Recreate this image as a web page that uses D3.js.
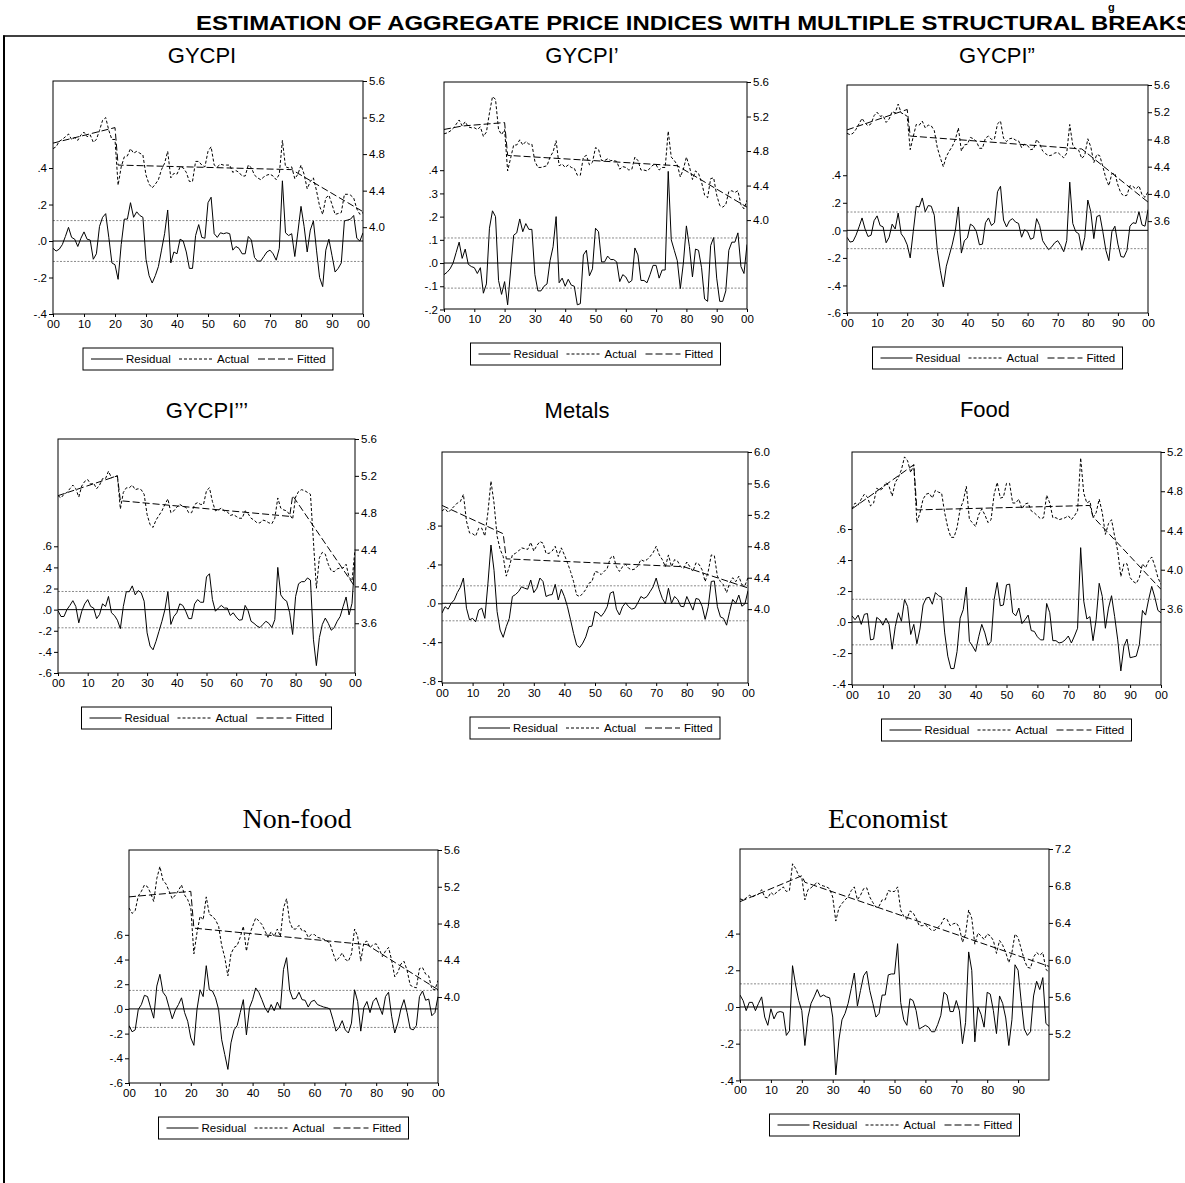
<!DOCTYPE html>
<html><head><meta charset="utf-8">
<script src="https://cdn.jsdelivr.net/npm/d3@7"></script>
<style>body{margin:0;background:#fff}svg{display:block}</style>
</head><body>
<svg id="c" width="1185" height="1183"></svg>
<script>
// ---------------- DATA ----------------
const years = d3.range(1900, 2001);
const mainTitle = "ESTIMATION OF AGGREGATE PRICE INDICES WITH MULTIPLE STRUCTURAL BREAKS";
const panelTitles = ["GYCPI", "GYCPI\u2019", "GYCPI\u201D", "GYCPI\u2019\u2019\u2019", "Metals", "Food", "Non-food", "Economist"];
const legendLabels = ["Residual", "Actual", "Fitted"];

const gycpiResidual = [-0.04,-0.055,-0.045,-0.02,0.025,0.075,0.02,0.01,-0.03,0.015,
 0.05,0.01,0.005,-0.10,-0.07,0.08,0.13,0.15,0.02,-0.12,
 -0.13,-0.21,-0.02,0.12,0.12,0.21,0.13,0.16,0.14,0.13,
 -0.10,-0.19,-0.23,-0.19,-0.14,-0.05,0.04,0.17,-0.12,-0.06,
 -0.07,0.01,0.0,-0.06,-0.15,-0.15,0.03,0.09,0.02,0.015,
 0.21,0.24,0.04,0.02,0.045,0.04,0.045,0.04,-0.05,-0.03,
 -0.04,-0.07,-0.07,0.025,0.005,-0.09,-0.11,-0.11,-0.085,-0.06,
 -0.05,-0.07,-0.105,-0.04,0.33,0.045,0.03,0.04,-0.085,0.05,
 0.19,0.08,-0.06,0.06,0.11,-0.05,-0.20,-0.25,-0.05,0.01,
 -0.08,-0.17,-0.15,-0.12,0.11,0.115,0.12,0.14,0.015,0.0,
 0.045];
const gycpiActual = [4.86,4.88,4.94,4.96,4.99,5.02,4.96,4.98,4.95,5.01,
 5.04,4.99,5.01,4.93,4.96,5.06,5.17,5.20,5.06,4.96,
 4.96,4.46,4.66,4.77,4.78,4.86,4.81,4.83,4.81,4.79,
 4.57,4.47,4.43,4.47,4.52,4.63,4.70,4.83,4.54,4.59,
 4.58,4.66,4.65,4.60,4.50,4.50,4.72,4.72,4.68,4.66,
 4.83,4.88,4.68,4.66,4.69,4.68,4.68,4.68,4.60,4.62,
 4.60,4.56,4.56,4.68,4.65,4.57,4.54,4.52,4.55,4.57,
 4.58,4.56,4.52,4.58,4.95,4.66,4.65,4.66,4.53,4.58,
 4.68,4.58,4.42,4.50,4.54,4.40,4.23,4.14,4.32,4.35,
 4.25,4.14,4.15,4.16,4.36,4.36,4.35,4.32,4.20,4.14,
 4.16];
const gycpiFittedYears = [1900, 1920, 1921, 1977, 2000];
const gycpiFittedValues = [4.92, 5.09, 4.68, 4.63, 4.17];

const gycpi1Residual = [-0.05,-0.04,-0.025,0.0,0.045,0.09,0.02,0.06,-0.005,-0.015,
 -0.02,-0.045,-0.02,-0.13,-0.09,0.15,0.225,0.20,-0.075,-0.135,
 -0.08,-0.18,-0.03,0.12,0.13,0.19,0.135,0.17,0.145,0.145,
 -0.05,-0.12,-0.12,-0.10,-0.09,0.01,0.07,0.20,-0.085,-0.065,
 -0.10,-0.07,-0.095,-0.10,-0.18,-0.175,0.035,0.055,-0.055,-0.025,
 0.15,0.135,0.005,0.005,0.03,0.015,0.015,0.005,-0.08,-0.05,
 -0.06,-0.085,-0.075,0.065,0.035,-0.075,-0.075,-0.085,-0.05,-0.01,
 -0.01,-0.065,-0.03,-0.03,0.395,0.10,0.055,0.01,-0.11,0.0,
 0.16,0.07,-0.06,0.06,0.055,-0.02,-0.155,-0.165,0.075,0.11,
 -0.065,-0.165,-0.165,-0.12,0.055,0.09,0.09,0.13,-0.015,-0.045,
 0.08];
const gycpi1Actual = [5.00,5.01,5.03,5.06,5.11,5.16,5.09,5.14,5.08,5.07,
 5.07,5.05,5.08,4.97,5.02,5.24,5.43,5.40,5.05,4.99,
 5.05,4.57,4.72,4.87,4.87,4.93,4.87,4.91,4.88,4.88,
 4.68,4.61,4.61,4.62,4.63,4.73,4.79,4.92,4.63,4.65,
 4.61,4.64,4.61,4.60,4.52,4.52,4.73,4.75,4.64,4.67,
 4.84,4.82,4.69,4.69,4.71,4.69,4.69,4.68,4.59,4.62,
 4.61,4.58,4.59,4.73,4.69,4.58,4.58,4.57,4.60,4.64,
 4.64,4.58,4.61,4.61,5.03,4.73,4.69,4.64,4.50,4.59,
 4.73,4.62,4.47,4.57,4.54,4.44,4.29,4.26,4.48,4.49,
 4.29,4.17,4.15,4.18,4.33,4.34,4.32,4.34,4.18,4.13,
 4.23];
const gycpi1FittedYears = [1900, 1906, 1920, 1921, 1977, 2000];
const gycpi1FittedValues = [5.05, 5.09, 5.13, 4.75, 4.63, 4.15];

const gycpi2Residual = [-0.05,-0.085,-0.08,-0.035,0.025,0.09,0.01,-0.045,-0.035,0.07,
 0.105,0.035,0.025,-0.09,-0.05,0.045,0.01,0.125,-0.025,-0.055,
 -0.105,-0.20,-0.01,0.175,0.17,0.235,0.135,0.18,0.175,0.11,
 -0.145,-0.29,-0.41,-0.26,-0.18,-0.10,0.0,0.17,-0.165,-0.075,
 -0.055,0.045,0.03,-0.01,-0.105,-0.10,0.055,0.09,0.035,0.055,
 0.28,0.32,0.075,0.025,0.07,0.085,0.06,0.05,-0.05,0.005,
 -0.01,-0.065,-0.055,0.085,0.035,-0.075,-0.11,-0.14,-0.12,-0.09,
 -0.075,-0.11,-0.155,-0.075,0.35,0.05,-0.01,-0.025,-0.145,-0.05,
 0.22,0.135,-0.06,0.10,0.11,-0.01,-0.145,-0.22,-0.01,0.03,
 -0.10,-0.19,-0.195,-0.145,0.03,0.055,0.05,0.135,0.04,0.03,
 0.15];
const gycpi2Actual = [4.89,4.87,4.89,4.95,5.03,5.11,5.04,5.00,5.03,5.15,
 5.20,5.14,5.15,5.05,5.10,5.21,5.19,5.32,5.19,5.17,
 5.14,4.65,4.84,5.02,5.01,5.07,4.97,5.01,5.00,4.93,
 4.68,4.53,4.40,4.55,4.63,4.70,4.80,4.97,4.63,4.72,
 4.73,4.83,4.81,4.77,4.67,4.67,4.82,4.85,4.80,4.81,
 5.03,5.07,4.82,4.77,4.81,4.82,4.79,4.78,4.68,4.73,
 4.71,4.65,4.66,4.80,4.74,4.63,4.59,4.56,4.57,4.60,
 4.61,4.57,4.53,4.60,5.02,4.72,4.66,4.64,4.52,4.57,
 4.81,4.69,4.46,4.58,4.56,4.40,4.23,4.12,4.30,4.30,
 4.13,4.01,3.97,3.98,4.12,4.11,4.07,4.12,3.99,3.95,
 4.03];
const gycpi2FittedYears = [1900, 1920, 1921, 1978, 2000];
const gycpi2FittedValues = [4.94, 5.24, 4.85, 4.66, 3.88];

const gycpi3Residual = [-0.01,-0.065,-0.065,0.0,0.04,0.085,0.03,-0.125,-0.015,0.055,
 0.095,0.03,0.015,-0.085,-0.045,0.055,0.03,0.125,-0.03,-0.055,
 -0.10,-0.18,0.03,0.17,0.17,0.225,0.14,0.18,0.16,0.08,
 -0.22,-0.345,-0.38,-0.30,-0.205,-0.11,0.0,0.17,-0.14,-0.065,
 -0.03,0.055,0.04,-0.015,-0.085,-0.085,0.055,0.095,0.07,0.07,
 0.31,0.34,0.095,-0.015,0.015,0.04,0.015,0.015,-0.055,-0.03,
 -0.07,-0.10,-0.095,0.04,-0.01,-0.11,-0.13,-0.155,-0.17,-0.14,
 -0.11,-0.13,-0.17,-0.095,0.40,0.14,0.10,0.08,-0.03,-0.235,
 0.125,0.245,0.265,0.265,0.30,0.28,-0.28,-0.53,-0.265,-0.14,
 -0.08,-0.13,-0.195,-0.17,-0.11,-0.065,0.03,0.12,-0.05,0.06,
 0.49];
const gycpi3Actual = [4.985,4.96,5.00,5.02,5.06,5.10,5.06,4.97,5.09,5.14,
 5.16,5.11,5.12,5.06,5.10,5.17,5.17,5.25,5.18,5.19,
 5.20,4.84,5.02,5.07,5.07,5.10,5.05,5.06,5.05,5.00,
 4.78,4.67,4.64,4.72,4.77,4.82,4.89,4.95,4.80,4.82,
 4.86,4.89,4.87,4.86,4.80,4.80,4.89,4.91,4.89,4.89,
 5.04,5.07,4.92,4.82,4.83,4.85,4.82,4.81,4.77,4.78,
 4.76,4.74,4.74,4.82,4.79,4.74,4.72,4.69,4.69,4.72,
 4.71,4.69,4.68,4.74,4.96,4.85,4.83,4.82,4.78,4.73,
 4.97,5.03,5.05,5.04,5.02,5.00,4.49,3.98,4.31,4.37,
 4.35,4.24,4.17,4.16,4.19,4.20,4.20,4.24,4.10,4.06,
 4.40];
const gycpi3FittedYears = [1900, 1920, 1921, 1978, 1979, 2000];
const gycpi3FittedValues = [4.985, 5.20, 4.93, 4.76, 4.985, 3.995];

const metalsResidual = [-0.10,-0.035,-0.06,0.0,0.035,0.11,0.165,0.26,-0.05,-0.17,
 -0.155,-0.19,-0.07,-0.05,-0.155,0.20,0.60,0.34,-0.085,-0.275,
 -0.35,-0.24,-0.155,0.07,0.09,0.12,0.17,0.155,0.145,0.24,
 0.11,0.155,0.26,0.225,0.07,0.085,0.09,0.195,0.035,0.145,
 0.07,-0.035,-0.17,-0.31,-0.43,-0.455,-0.41,-0.345,-0.24,-0.235,
 -0.085,-0.10,-0.135,-0.095,-0.035,0.105,0.12,-0.06,-0.12,-0.035,
 0.005,-0.035,-0.06,-0.05,0.005,0.07,0.05,0.07,0.12,0.17,
 0.26,0.14,0.05,-0.005,0.155,0.0,0.07,0.04,-0.03,-0.035,
 0.07,0.0,-0.07,0.05,0.04,-0.03,-0.165,-0.035,0.225,0.23,
 -0.035,-0.14,-0.155,-0.225,-0.085,0.04,0.0,0.085,-0.03,-0.005,
 0.13];
const metalsActual = [5.25,5.28,5.23,5.27,5.31,5.35,5.37,5.46,5.12,4.97,
 4.96,4.93,5.03,5.03,4.93,5.23,5.63,5.35,4.93,4.76,
 4.67,4.42,4.54,4.69,4.71,4.74,4.78,4.77,4.76,4.85,
 4.74,4.81,4.86,4.84,4.71,4.71,4.74,4.80,4.67,4.78,
 4.69,4.59,4.48,4.35,4.18,4.16,4.20,4.25,4.33,4.35,
 4.48,4.47,4.44,4.48,4.52,4.65,4.68,4.54,4.48,4.54,
 4.57,4.52,4.50,4.51,4.55,4.63,4.61,4.63,4.67,4.72,
 4.80,4.69,4.63,4.54,4.69,4.54,4.63,4.61,4.54,4.52,
 4.60,4.54,4.48,4.59,4.57,4.50,4.35,4.48,4.69,4.68,
 4.42,4.35,4.31,4.21,4.33,4.40,4.35,4.42,4.31,4.30,
 4.40];
const metalsFittedYears = [1900, 1920, 1921, 1979, 2000];
const metalsFittedValues = [5.32, 4.96, 4.64, 4.54, 4.27];

const foodResidual = [0.04,0.015,0.045,-0.015,0.05,0.055,-0.115,-0.11,0.03,0.015,
 -0.02,0.025,-0.015,-0.175,-0.03,0.06,0.005,0.145,0.10,-0.08,
 -0.015,-0.14,-0.045,0.11,0.155,0.16,0.115,0.19,0.17,0.16,
 -0.07,-0.22,-0.30,-0.30,-0.19,0.025,0.08,0.225,-0.125,-0.155,
 -0.19,-0.095,-0.015,-0.07,-0.15,-0.125,0.145,0.255,0.105,0.11,
 0.24,0.245,0.06,0.04,0.09,-0.01,0.015,0.045,-0.055,-0.06,
 -0.095,-0.115,-0.115,0.12,0.06,-0.12,-0.12,-0.135,-0.13,-0.115,
 -0.09,-0.135,-0.09,-0.04,0.48,0.135,0.02,0.035,-0.12,0.015,
 0.25,0.165,-0.04,0.09,0.17,0.035,-0.115,-0.315,-0.155,-0.11,
 -0.23,-0.225,-0.22,-0.145,0.075,0.045,0.145,0.23,0.16,0.075,
 0.06];
const foodActual = [4.62,4.68,4.66,4.72,4.77,4.74,4.65,4.68,4.83,4.81,
 4.83,4.89,4.85,4.75,4.89,4.94,5.02,5.15,5.11,4.99,
 5.07,4.48,4.58,4.72,4.77,4.78,4.73,4.81,4.79,4.78,
 4.58,4.43,4.33,4.33,4.43,4.62,4.70,4.85,4.51,4.48,
 4.44,4.56,4.62,4.56,4.48,4.51,4.77,4.89,4.73,4.74,
 4.88,4.88,4.68,4.68,4.72,4.62,4.67,4.68,4.60,4.58,
 4.55,4.52,4.53,4.76,4.68,4.53,4.53,4.51,4.52,4.53,
 4.55,4.51,4.55,4.60,5.14,4.78,4.68,4.70,4.53,4.58,
 4.72,4.58,4.36,4.47,4.51,4.34,4.19,3.93,4.06,4.06,
 3.92,3.88,3.86,3.92,4.06,4.02,4.09,4.13,4.04,3.92,
 3.85];
const foodFittedYears = [1900, 1920, 1921, 1977, 1978, 2000];
const foodFittedValues = [4.62, 5.07, 4.61, 4.655, 4.54, 3.80];

const nonfoodResidual = [-0.135,-0.185,-0.17,-0.005,0.035,0.11,0.10,0.01,-0.075,0.185,
 0.28,0.135,0.10,0.01,-0.08,-0.01,0.035,0.09,-0.03,-0.10,
 -0.235,-0.295,-0.005,0.155,0.10,0.35,0.155,0.145,0.09,-0.005,
 -0.25,-0.37,-0.49,-0.275,-0.17,-0.135,-0.03,0.075,-0.21,0.01,
 0.075,0.17,0.135,0.075,0.01,-0.03,0.035,-0.015,0.055,0.0,
 0.32,0.415,0.15,0.08,0.085,0.135,0.075,0.07,0.015,0.06,
 0.07,0.035,0.025,0.015,0.01,0.0,-0.085,-0.18,-0.15,-0.095,
 -0.17,-0.195,-0.115,0.155,0.06,-0.18,0.01,0.06,-0.03,0.06,
 0.09,0.02,-0.045,0.10,0.135,-0.06,-0.195,-0.115,0.0,0.075,
 -0.03,-0.16,-0.17,-0.135,0.10,0.145,0.07,0.08,-0.055,-0.03,
 0.10];
const nonfoodActual = [4.97,4.91,4.94,5.10,5.15,5.22,5.20,5.13,5.04,5.29,
 5.42,5.27,5.23,5.15,5.07,5.11,5.16,5.22,5.11,5.06,
 4.97,4.47,4.70,4.88,4.84,5.09,4.90,4.88,4.84,4.77,
 4.56,4.43,4.23,4.47,4.54,4.56,4.65,4.77,4.50,4.68,
 4.77,4.86,4.83,4.79,4.72,4.65,4.71,4.66,4.74,4.66,
 4.97,5.07,4.82,4.74,4.74,4.78,4.72,4.72,4.65,4.68,
 4.68,4.65,4.64,4.63,4.61,4.59,4.48,4.39,4.43,4.48,
 4.41,4.39,4.47,4.74,4.66,4.39,4.59,4.61,4.54,4.57,
 4.58,4.52,4.44,4.50,4.54,4.40,4.22,4.27,4.36,4.39,
 4.29,4.13,4.11,4.10,4.31,4.32,4.25,4.23,4.09,4.08,
 4.18];
const nonfoodFittedYears = [1900, 1920, 1921, 1977, 2000];
const nonfoodFittedValues = [5.09, 5.15, 4.75, 4.57, 4.08];

const economistResidual = [0.065,0.035,-0.02,0.025,0.025,-0.02,0.02,0.055,-0.055,-0.10,
 -0.01,-0.065,-0.03,-0.025,-0.03,-0.155,-0.13,0.225,0.12,0.035,
 -0.02,-0.21,-0.055,0.02,0.055,0.095,0.055,0.065,0.055,0.05,
 -0.055,-0.37,-0.18,-0.07,-0.035,0.02,0.10,0.185,0.005,0.09,
 0.17,0.195,0.09,0.02,-0.055,-0.035,0.065,0.065,0.175,0.18,
 0.18,0.345,0.025,-0.07,-0.10,0.045,0.035,-0.02,-0.12,-0.11,
 -0.10,-0.11,-0.135,-0.135,-0.095,-0.045,0.08,0.065,-0.025,-0.025,
 0.035,-0.02,-0.20,-0.085,0.30,0.20,-0.19,0.0,-0.04,-0.11,
 0.08,0.07,-0.02,-0.145,0.06,0.02,-0.06,-0.21,-0.07,0.23,
 0.20,0.03,-0.12,-0.155,-0.135,0.06,0.14,0.095,0.16,-0.09,
 -0.105];
const economistActual = [6.66,6.65,6.67,6.70,6.68,6.70,6.71,6.76,6.68,6.67,
 6.73,6.70,6.74,6.76,6.79,6.74,6.75,7.04,6.99,6.91,
 6.89,6.65,6.76,6.78,6.81,6.84,6.81,6.80,6.79,6.77,
 6.68,6.42,6.56,6.61,6.65,6.68,6.75,6.79,6.65,6.70,
 6.77,6.78,6.68,6.62,6.57,6.58,6.65,6.65,6.75,6.74,
 6.74,6.79,6.54,6.47,6.44,6.53,6.51,6.45,6.37,6.37,
 6.38,6.35,6.32,6.32,6.35,6.38,6.45,6.44,6.37,6.39,
 6.40,6.35,6.19,6.28,6.54,6.45,6.17,6.29,6.26,6.22,
 6.28,6.26,6.21,6.07,6.21,6.16,6.08,5.97,6.08,6.28,
 6.24,6.12,6.00,5.92,5.91,6.03,6.08,6.05,6.08,5.90,
 5.86];
const economistFittedYears = [1900, 1920, 1921, 2000];
const economistFittedValues = [6.63, 6.91, 6.84, 5.93];

// one-standard-error band of each residual
const seValues = [0.112, 0.108, 0.133, 0.172, 0.18, 0.147, 0.15, 0.126];

// tick labels
const residualTicks = [
  [-0.4,-0.2,0,0.2,0.4],
  [-0.2,-0.1,0,0.1,0.2,0.3,0.4],
  [-0.6,-0.4,-0.2,0,0.2,0.4],
  [-0.6,-0.4,-0.2,0,0.2,0.4,0.6],
  [-0.8,-0.4,0,0.4,0.8],
  [-0.4,-0.2,0,0.2,0.4,0.6],
  [-0.6,-0.4,-0.2,0,0.2,0.4,0.6],
  [-0.4,-0.2,0,0.2,0.4]
];
const actualTicks = [
  [4.0,4.4,4.8,5.2,5.6],
  [4.0,4.4,4.8,5.2,5.6],
  [3.6,4.0,4.4,4.8,5.2,5.6],
  [3.6,4.0,4.4,4.8,5.2,5.6],
  [4.0,4.4,4.8,5.2,5.6,6.0],
  [3.6,4.0,4.4,4.8,5.2],
  [4.0,4.4,4.8,5.2,5.6],
  [5.2,5.6,6.0,6.4,6.8,7.2]
];
const yearTicksFull = [1900,1910,1920,1930,1940,1950,1960,1970,1980,1990,2000];
const yearTicksShort = [1900,1910,1920,1930,1940,1950,1960,1970,1980,1990];

// ---------------- LAYOUT ----------------
const SANS = "'Liberation Sans', Arial, Helvetica, sans-serif";
const SERIF = "'Liberation Serif', 'Times New Roman', Times, serif";
const layouts = [
  {L:53,  T:81,  R:363,  B:314,  res:[-0.40,0.877], act:[3.05,5.6], tx:202,  ty:63,  font:SANS,  fs:22},
  {L:444, T:82,  R:747,  B:309,  res:[-0.198,0.78], act:[2.97,5.6], tx:582,  ty:63,  font:SANS,  fs:22},
  {L:847, T:85,  R:1148, B:313,  res:[-0.60,1.055], act:[2.25,5.6], tx:997,  ty:63,  font:SANS,  fs:22},
  {L:58,  T:439, R:355,  B:673,  res:[-0.60,1.616], act:[3.06,5.6], tx:207,  ty:418, font:SANS,  fs:22},
  {L:442, T:452, R:748,  B:683,  res:[-0.82,1.557], act:[3.06,6.0], tx:577,  ty:418, font:SANS,  fs:22},
  {L:852, T:452, R:1161, B:685,  res:[-0.406,1.097],act:[2.825,5.2],tx:985,  ty:417, font:SANS,  fs:22},
  {L:129, T:850, R:438,  B:1083, res:[-0.60,1.287], act:[3.065,5.6],tx:297,  ty:828, font:SERIF, fs:28},
  {L:740, T:849, R:1049, B:1080, res:[-0.398,0.861],act:[4.70,7.2], tx:888,  ty:828, font:SERIF, fs:28}
];

const residuals = [gycpiResidual, gycpi1Residual, gycpi2Residual, gycpi3Residual, metalsResidual, foodResidual, nonfoodResidual, economistResidual];
const actuals = [gycpiActual, gycpi1Actual, gycpi2Actual, gycpi3Actual, metalsActual, foodActual, nonfoodActual, economistActual];
const fittedYears = [gycpiFittedYears, gycpi1FittedYears, gycpi2FittedYears, gycpi3FittedYears, metalsFittedYears, foodFittedYears, nonfoodFittedYears, economistFittedYears];
const fittedValues = [gycpiFittedValues, gycpi1FittedValues, gycpi2FittedValues, gycpi3FittedValues, metalsFittedValues, foodFittedValues, nonfoodFittedValues, economistFittedValues];

// ---------------- DRAW ----------------
const svg = d3.select("#c");
svg.append("rect").attr("width",1185).attr("height",1183).attr("fill","#fff");

// header
svg.append("text").attr("x",1108).attr("y",11).attr("font-family",SANS).attr("font-weight","bold")
  .attr("font-size",11).text("g");
svg.append("text").attr("x",196).attr("y",30).attr("font-family","'Liberation Sans Narrow', 'Arial Narrow', "+SANS)
  .attr("font-weight","bold").attr("font-size",21).attr("textLength",996).attr("lengthAdjust","spacingAndGlyphs")
  .text(mainTitle);
svg.append("line").attr("x1",3).attr("x2",1185).attr("y1",36).attr("y2",36).attr("stroke","#000").attr("stroke-width",1.5);
svg.append("line").attr("x1",4).attr("x2",4).attr("y1",35.5).attr("y2",1183).attr("stroke","#000").attr("stroke-width",2);

const fmtRes = v => d3.format(".1f")(v).replace("\u2212", "-").replace(/^(-?)0\./, "$1.");
const fmtAct = d3.format(".1f");
const fmtYear = v => String(v % 100).padStart(2, "0");

function drawPanel(i) {
  const p = layouts[i];
  const g = svg.append("g");
  const x = d3.scaleLinear().domain([1900, 2000]).range([p.L, p.R]);
  const yR = d3.scaleLinear().domain(p.res).range([p.B, p.T]);
  const yA = d3.scaleLinear().domain(p.act).range([p.B, p.T]);

  const clipId = "clip" + i;
  svg.append("clipPath").attr("id", clipId).append("rect")
    .attr("x", p.L).attr("y", p.T).attr("width", p.R - p.L).attr("height", p.B - p.T);
  const plot = g.append("g").attr("clip-path", `url(#${clipId})`);

  // +- standard error band
  [seValues[i], -seValues[i]].forEach(v => {
    plot.append("line").attr("x1", p.L).attr("x2", p.R).attr("y1", yR(v)).attr("y2", yR(v))
      .attr("stroke", "#8a8a8a").attr("stroke-width", 1).attr("stroke-dasharray", "2,1.5");
  });
  // zero line
  plot.append("line").attr("x1", p.L).attr("x2", p.R).attr("y1", yR(0)).attr("y2", yR(0))
    .attr("stroke", "#000").attr("stroke-width", 1);

  const lineA = d3.line().x((d, j) => x(years[j])).y(d => yA(d));
  const lineR = d3.line().x((d, j) => x(years[j])).y(d => yR(d));
  const fitted = fittedYears[i].map((yr, j) => [yr, fittedValues[i][j]]);
  const lineF = d3.line().x(d => x(d[0])).y(d => yA(d[1]));

  plot.append("path").datum(actuals[i]).attr("d", lineA).attr("fill", "none")
    .attr("stroke", "#000").attr("stroke-width", 1).attr("stroke-dasharray", "3,2");
  plot.append("path").datum(fitted).attr("d", lineF).attr("fill", "none")
    .attr("stroke", "#000").attr("stroke-width", 1).attr("stroke-dasharray", "7,3");
  plot.append("path").datum(residuals[i]).attr("d", lineR).attr("fill", "none")
    .attr("stroke", "#000").attr("stroke-width", 1).attr("stroke-linejoin", "round");

  // frame
  g.append("rect").attr("x", p.L).attr("y", p.T).attr("width", p.R - p.L).attr("height", p.B - p.T)
    .attr("fill", "none").attr("stroke", "#000").attr("stroke-width", 1);

  const styleAxis = sel => {
    sel.select(".domain").remove();
    sel.attr("font-family", SANS).attr("font-size", 11.5);
    sel.selectAll("line").attr("stroke", "#000");
    sel.selectAll("text").attr("fill", "#000");
  };
  g.append("g").attr("transform", `translate(${p.L},0)`)
    .call(d3.axisLeft(yR).tickValues(residualTicks[i]).tickSize(4).tickPadding(2).tickFormat(fmtRes))
    .call(styleAxis);
  g.append("g").attr("transform", `translate(${p.R},0)`)
    .call(d3.axisRight(yA).tickValues(actualTicks[i]).tickSize(4).tickPadding(2).tickFormat(fmtAct))
    .call(styleAxis);
  g.append("g").attr("transform", `translate(0,${p.B})`)
    .call(d3.axisBottom(x).tickValues(i === 7 ? yearTicksShort : yearTicksFull).tickSize(3).tickPadding(3).tickFormat(fmtYear))
    .call(styleAxis);

  // title
  g.append("text").attr("x", p.tx).attr("y", p.ty).attr("text-anchor", "middle")
    .attr("font-family", p.font).attr("font-size", p.fs).attr("fill", "#000").text(panelTitles[i]);

  // legend
  const lw = 250, lh = 22;
  const lx = (p.L + p.R) / 2 - lw / 2, ly = p.B + 34;
  const lg = g.append("g").attr("transform", `translate(${lx},${ly})`);
  lg.append("rect").attr("width", lw).attr("height", lh).attr("fill", "#fff").attr("stroke", "#000").attr("stroke-width", 1);
  const items = [
    {x0: 8, x1: 40, tx: 43, dash: null},
    {x0: 96, x1: 130, tx: 134, dash: "3,2"},
    {x0: 175, x1: 210, tx: 214, dash: "7,3"}
  ];
  items.forEach((it, k) => {
    const ln = lg.append("line").attr("x1", it.x0).attr("x2", it.x1).attr("y1", lh / 2).attr("y2", lh / 2)
      .attr("stroke", "#000").attr("stroke-width", 1);
    if (it.dash) ln.attr("stroke-dasharray", it.dash);
    lg.append("text").attr("x", it.tx).attr("y", lh / 2 + 4.2).attr("font-family", SANS)
      .attr("font-size", 11.5).attr("fill", "#000").text(legendLabels[k]);
  });
}

for (let i = 0; i < 8; i++) drawPanel(i);
</script>
</body></html>
